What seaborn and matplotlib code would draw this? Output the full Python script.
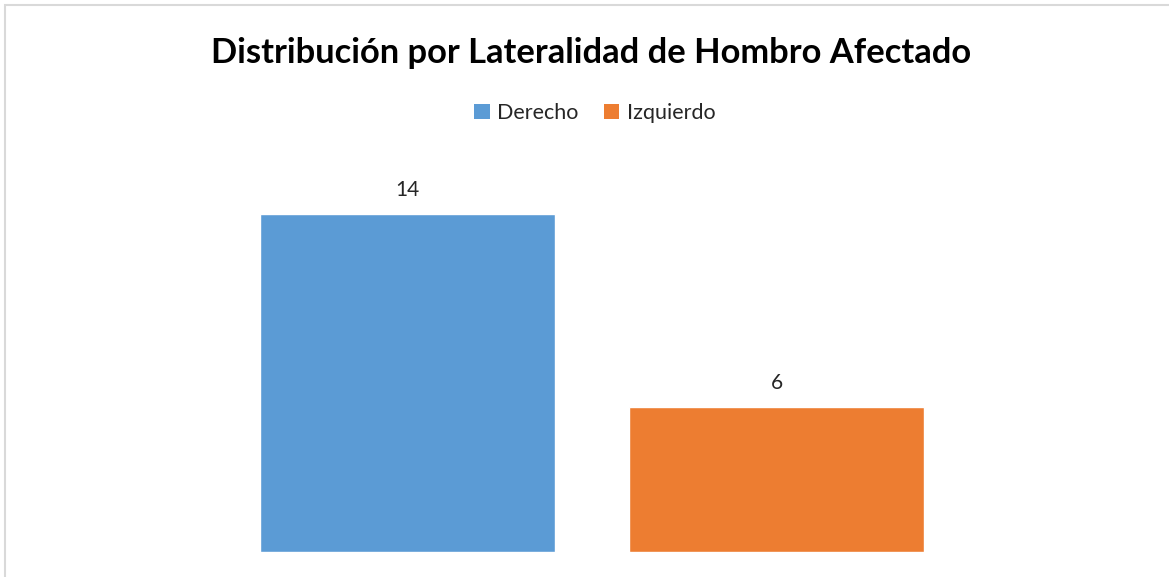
import pandas as pd
import matplotlib
matplotlib.use('Agg')
import matplotlib.pyplot as plt
import seaborn as sns
from matplotlib.patches import Patch, Rectangle

sns.set_theme(style='white')
plt.rcParams['font.family'] = ['Lato', 'DejaVu Sans']

series = ['Derecho', 'Izquierdo']
values = [14, 6]
colors = ['#5B9BD5', '#ED7D31']

df = pd.DataFrame({'lado': series, 'n': values})

W, H = 1169, 577
fig = plt.figure(figsize=(W / 100, H / 100), dpi=100)

# plot area in pixels
left_px, right_px, top_px, bottom_px = 112, 1072, 166, 552
ax = fig.add_axes([left_px / W, (H - bottom_px) / H,
                   (right_px - left_px) / W, (bottom_px - top_px) / H])

sns.barplot(data=df, x='lado', y='n', hue='lado', palette=colors,
            width=0.80, legend=False, ax=ax, saturation=1)
ax.set_xlim(-0.80, 1.80)
ax.set_ylim(0, 16)
ax.axis('off')

for i, v in enumerate(values):
    ax.text(i, v + 0.6, str(v), ha='center', va='bottom', fontsize=15, color='#262626')

fig.text(591 / W, 1 - 53 / H, 'Distribución por Lateralidad de Hombro Afectado',
         ha='center', va='center', fontsize=24.8, fontweight='bold', color='black')

handles = [Patch(facecolor=c, edgecolor='none') for c in colors]
fig.legend(handles, series, loc='center', bbox_to_anchor=(595 / W, 1 - 113 / H),
           ncol=2, frameon=False, fontsize=15.5, handlelength=0.7, handleheight=0.7,
           handletextpad=0.35, columnspacing=1.2)

# outer border (top and left visible)
fig.patches.append(Rectangle((5 / W, -0.1), 1.2, 1 - 5 / H + 0.1, transform=fig.transFigure,
                             fill=False, edgecolor='#D9D9D9', linewidth=1.5))

fig.savefig('out.png', dpi=100)
